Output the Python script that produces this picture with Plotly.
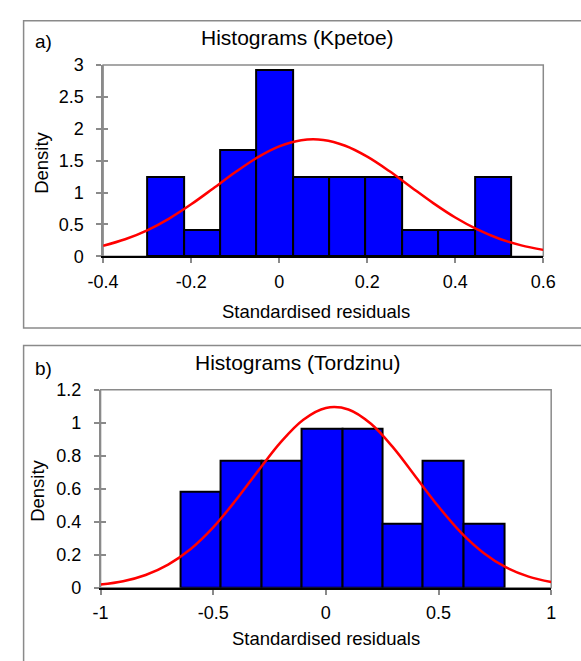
import plotly.graph_objects as go

# ---------------- data ----------------
# Panel a) Kpetoe
edges_a = [-0.300, -0.217, -0.134, -0.052, 0.031, 0.113, 0.196, 0.279, 0.361, 0.444, 0.527]
dens_a = [1.25, 0.42, 1.67, 2.92, 1.25, 1.25, 1.25, 0.42, 0.42, 1.25]
curve_xa = [-0.40, -0.35, -0.30, -0.25, -0.20, -0.15, -0.10, -0.05, 0.00, 0.05, 0.10,
            0.15, 0.20, 0.25, 0.30, 0.35, 0.40, 0.45, 0.50, 0.55, 0.60]
curve_ya = [0.165, 0.267, 0.408, 0.592, 0.815, 1.064, 1.317, 1.547, 1.723, 1.821, 1.825,
            1.734, 1.563, 1.337, 1.084, 0.834, 0.608, 0.421, 0.276, 0.172, 0.101]
xticks_a = [-0.4, -0.2, 0, 0.2, 0.4, 0.6]
xticktext_a = ["-0.4", "-0.2", "0", "0.2", "0.4", "0.6"]
yticks_a = [0, 0.5, 1, 1.5, 2, 2.5, 3]
yticktext_a = ["0", "0.5", "1", "1.5", "2", "2.5", "3"]

# Panel b) Tordzinu
edges_b = [-0.645, -0.466, -0.286, -0.108, 0.073, 0.252, 0.431, 0.611, 0.791]
dens_b = [0.579, 0.772, 0.772, 0.965, 0.965, 0.386, 0.772, 0.386]
curve_xb = [-1.0, -0.9, -0.8, -0.7, -0.6, -0.5, -0.4, -0.3, -0.2, -0.1, 0.0,
            0.1, 0.2, 0.3, 0.4, 0.5, 0.6, 0.7, 0.8, 0.9, 1.0]
curve_yb = [0.019, 0.039, 0.077, 0.140, 0.235, 0.366, 0.530, 0.710, 0.883, 1.019, 1.090,
            1.081, 0.994, 0.848, 0.670, 0.492, 0.334, 0.211, 0.123, 0.067, 0.034]
xticks_b = [-1, -0.5, 0, 0.5, 1]
xticktext_b = ["-1", "-0.5", "0", "0.5", "1"]
yticks_b = [0, 0.2, 0.4, 0.6, 0.8, 1, 1.2]
yticktext_b = ["0", "0.2", "0.4", "0.6", "0.8", "1", "1.2"]

titles = ["Histograms (Kpetoe)", "Histograms (Tordzinu)"]
panel_tags = ["a)", "b)"]
x_title = "Standardised residuals"
y_title = "Density"

# ---------------- layout helpers ----------------
W, H = 581, 661
FONT = "Liberation Sans, Arial, sans-serif"
GRAY = "#8a8a8a"


def px(x):
    return x / W


def py(y):
    return 1 - y / H


def centers(edges):
    return [(edges[i] + edges[i + 1]) / 2 for i in range(len(edges) - 1)]


def widths(edges):
    return [edges[i + 1] - edges[i] for i in range(len(edges) - 1)]


fig = go.Figure()

fig.add_trace(go.Bar(x=centers(edges_a), y=dens_a, width=widths(edges_a),
                     marker=dict(color="#0000FF", line=dict(color="black", width=2)),
                     xaxis="x", yaxis="y", showlegend=False, hoverinfo="skip"))
fig.add_trace(go.Scatter(x=curve_xa, y=curve_ya, mode="lines",
                         line=dict(color="#FF0000", width=2.5, shape="spline"),
                         xaxis="x", yaxis="y", showlegend=False, hoverinfo="skip"))
fig.add_trace(go.Bar(x=centers(edges_b), y=dens_b, width=widths(edges_b),
                     marker=dict(color="#0000FF", line=dict(color="black", width=2)),
                     xaxis="x2", yaxis="y2", showlegend=False, hoverinfo="skip"))
fig.add_trace(go.Scatter(x=curve_xb, y=curve_yb, mode="lines",
                         line=dict(color="#FF0000", width=2.5, shape="spline"),
                         xaxis="x2", yaxis="y2", showlegend=False, hoverinfo="skip"))
# empty traces so the overlay (inside-tick) axes are drawn
fig.add_trace(go.Scatter(x=[], y=[], xaxis="x", yaxis="y3", showlegend=False))
fig.add_trace(go.Scatter(x=[], y=[], xaxis="x2", yaxis="y4", showlegend=False))

tickfont = dict(family=FONT, size=18, color="black")

dom_xa = [px(91.7), px(555)]
dom_ya = [py(254), py(56.7)]
dom_xb = [px(89), px(563.3)]
dom_yb = [py(595.7), py(391.7)]

xcommon = dict(showgrid=False, zeroline=False, showline=True, linecolor="black", linewidth=2.3,
               ticks="outside", ticklen=5, tickwidth=1.5, tickcolor=GRAY, tickfont=tickfont,
               ticklabelstandoff=3)
ycommon = dict(showgrid=False, zeroline=False, showline=True, linecolor=GRAY, linewidth=1.5,
               ticks="outside", ticklen=5, tickwidth=1.5, tickcolor=GRAY, tickfont=tickfont,
               ticklabelstandoff=9)
yover = dict(showgrid=False, zeroline=False, showline=False, ticks="inside", ticklen=5,
             tickwidth=1.5, tickcolor=GRAY, showticklabels=False, side="left")

fig.update_layout(
    width=W, height=H,
    margin=dict(l=0, r=0, t=0, b=0),
    paper_bgcolor="white", plot_bgcolor="white",
    bargap=0, barmode="overlay",
    xaxis=dict(domain=dom_xa, range=[-0.4, 0.6], tickvals=xticks_a, ticktext=xticktext_a,
               anchor="y", **xcommon),
    yaxis=dict(domain=dom_ya, range=[0, 3], tickvals=yticks_a, ticktext=yticktext_a,
               anchor="x", **ycommon),
    xaxis2=dict(domain=dom_xb, range=[-1, 1], tickvals=xticks_b, ticktext=xticktext_b,
                anchor="y2", **xcommon),
    yaxis2=dict(domain=dom_yb, range=[0, 1.2], tickvals=yticks_b, ticktext=yticktext_b,
                anchor="x2", **ycommon),
    yaxis3=dict(overlaying="y", range=[0, 3], tickvals=yticks_a, anchor="x", **yover),
    yaxis4=dict(overlaying="y2", range=[0, 1.2], tickvals=yticks_b, anchor="x2", **yover),
)

shapes = []
# outer panel frames (open on the right / bottom edge of the picture)
shapes.append(dict(type="rect", xref="paper", yref="paper", x0=px(8), x1=px(600), y0=py(328), y1=py(11),
                   line=dict(color=GRAY, width=1.5), layer="below"))
shapes.append(dict(type="rect", xref="paper", yref="paper", x0=px(8), x1=px(600), y0=py(680), y1=py(346),
                   line=dict(color=GRAY, width=1.5), layer="below"))
# plot-area borders
shapes.append(dict(type="rect", xref="x domain", yref="y domain", x0=0, x1=1, y0=0, y1=1,
                   line=dict(color=GRAY, width=1.5), layer="below"))
shapes.append(dict(type="rect", xref="x2 domain", yref="y2 domain", x0=0, x1=1, y0=0, y1=1,
                   line=dict(color=GRAY, width=1.5), layer="below"))
fig.update_layout(shapes=shapes)

ann = []


def add_text(text, x, y, size, angle=0):
    ann.append(dict(text=text, x=px(x), y=py(y), xref="paper", yref="paper",
                    xanchor="center", yanchor="middle", showarrow=False, textangle=angle,
                    font=dict(family=FONT, size=size, color="black")))


add_text(panel_tags[0], 29, 32, 19)
add_text(titles[0], 296, 28, 21)
add_text(y_title, 27, 158, 18.5, -90)
add_text(x_title, 316, 311, 18.5)
add_text(panel_tags[1], 29, 370, 19)
add_text(titles[1], 296, 363, 21)
add_text(y_title, 23, 496, 18.5, -90)
add_text(x_title, 326, 648, 18.5)
fig.update_layout(annotations=ann)

fig.write_html("out.html",
               post_script="document.body.style.margin='0px';document.body.style.overflow='hidden';")
